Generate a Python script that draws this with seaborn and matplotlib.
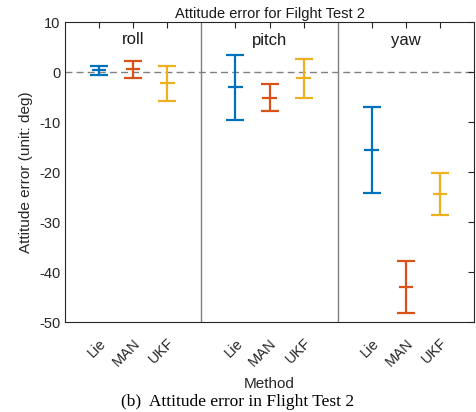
import matplotlib
matplotlib.use("Agg")
import matplotlib.pyplot as plt
import seaborn as sns
import pandas as pd

axes_names = ["roll", "pitch", "yaw"]
methods = ["Lie", "MAN", "UKF"]
center = [0.4, 0.6, -2.2, -3.0, -5.2, -1.2, -15.6, -42.9, -24.3]
upper = [1.3, 2.2, 1.3, 3.4, -2.4, 2.6, -7.0, -37.8, -20.1]
lower = [-0.6, -1.1, -5.7, -9.5, -7.8, -5.1, -24.2, -48.1, -28.6]
positions = [1, 2, 3, 5, 6, 7, 9, 10, 11]
colors = ["#0072BD", "#D95319", "#EDB120"]

df = pd.DataFrame({
    "axis": [a for a in axes_names for _ in methods],
    "method": methods * 3,
    "pos": positions,
    "center": center,
    "upper": upper,
    "lower": lower,
})

sns.set_theme(style="white")
plt.rcParams["font.family"] = ["Liberation Sans", "DejaVu Sans"]

fig = plt.figure(figsize=(4.76, 4.12), dpi=100)
ax = fig.add_axes([65 / 476, 90 / 412, 409 / 476, 300 / 412])

for _, r in df.iterrows():
    c = colors[methods.index(r["method"])]
    ax.errorbar([r["pos"]], [r["center"]],
                yerr=[[r["center"] - r["lower"]], [r["upper"] - r["center"]]],
                fmt="none", ecolor=c, elinewidth=1.6, capsize=6.5, capthick=1.6)
sns.scatterplot(data=df, x="pos", y="center", hue="method", palette=colors,
                marker="_", s=110, linewidth=1.6, legend=False, ax=ax, zorder=3)

ax.axhline(0, color="#808080", ls=(0, (5, 3)), lw=1.0, zorder=0)
for xv in [4, 8]:
    ax.axvline(xv, color="#808080", lw=1.0, zorder=0)

for i, name in enumerate(axes_names):
    ax.text(2 + 4 * i, 6.4, name, ha="center", va="center", fontsize=12, color="#1a1a1a")

ax.set_xlim(0, 12)
ax.set_ylim(-50, 10)
ax.set_yticks(range(-50, 11, 10))
ax.set_yticklabels([str(v).replace("\u2212", "-") for v in range(-50, 11, 10)])
ax.set_xticks(positions)
ax.set_xticklabels(methods * 3, rotation=45, ha="right", rotation_mode="anchor")
ax.tick_params(direction="in", length=4, width=0.8, colors="#262626",
               labelsize=10.5, top=True, right=True, labelcolor="#262626")
ax.tick_params(axis="x", pad=10)
for s in ax.spines.values():
    s.set_color("#262626")
    s.set_linewidth(0.8)

ax.set_xlabel("Method", fontsize=11, color="#262626", labelpad=6)
ax.set_ylabel("Attitude error (unit: deg)", fontsize=11, color="#262626", labelpad=4)
ax.set_title("Attitude error for Filght Test 2", fontsize=10.5, color="#1a1a1a", pad=3)

fig.text(0.5, 2 / 412, "(b)  Attitude error in Flight Test 2", ha="center", va="bottom",
         fontsize=12.5, family=["Liberation Serif", "DejaVu Serif"], color="black")

fig.savefig("out.png", dpi=100)
